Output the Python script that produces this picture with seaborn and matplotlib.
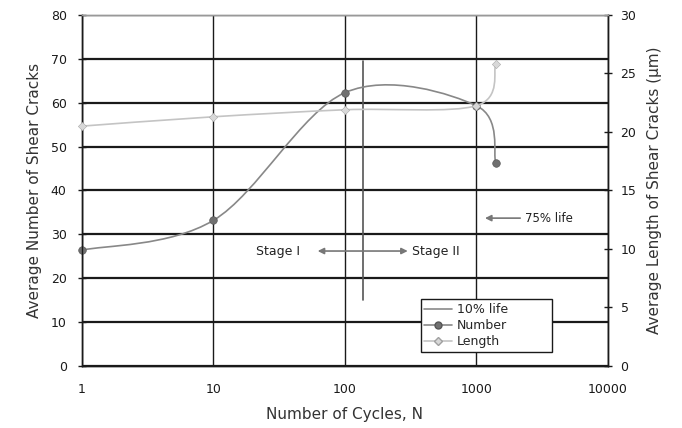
import numpy as np
import matplotlib
matplotlib.use("Agg")
import matplotlib.pyplot as plt
from matplotlib.path import Path
from matplotlib.patches import PathPatch
from matplotlib.lines import Line2D
import seaborn as sns

# data
cycles = [1, 10, 100, 1000, 1400]
crack_number = [26.4, 33.2, 62.3, 59.3, 46.2]           # left axis
crack_length = [20.5, 21.3, 21.9, 22.25, 25.8]           # right axis, um
life10_x = 137
life10_y = [15, 69.5]

sns.set_style("white")
plt.rcParams['font.family'] = ['DejaVu Sans']


def smooth_path(xs, ys):
    # excel-like smoothed line: bezier segments built in (log x, y)
    lx = np.log10(xs)
    ys = np.asarray(ys, float)
    n = len(lx)
    verts = [(xs[0], ys[0])]
    codes = [Path.MOVETO]
    for i in range(n - 1):
        i0, i2, i3 = max(i - 1, 0), i + 1, min(i + 2, n - 1)
        c1 = (lx[i] + (lx[i2] - lx[i0]) / 6, ys[i] + (ys[i2] - ys[i0]) / 6)
        c2 = (lx[i2] - (lx[i3] - lx[i]) / 6, ys[i2] - (ys[i3] - ys[i]) / 6)
        verts += [(10 ** c1[0], c1[1]), (10 ** c2[0], c2[1]), (xs[i2], ys[i2])]
        codes += [Path.CURVE4] * 3
    return Path(verts, codes)


fig = plt.figure(figsize=(6.82, 4.28), dpi=100)
ax = fig.add_axes([0.1202, 0.1449, 0.7713, 0.8201])
ax2 = ax.twinx()

ax.set_xscale('log')
ax.set_xlim(1, 10000)
ax.set_ylim(0, 80)
ax2.set_ylim(0, 30)

ax.set_yticks(range(0, 81, 10))
ax2.set_yticks(range(0, 31, 5))
ax.set_xticks([1, 10, 100, 1000, 10000])
ax.set_xticklabels(['1', '10', '100', '1000', '10000'])
ax.minorticks_off()

ax.grid(axis='y', color='#1a1a1a', lw=1.6)
ax.grid(axis='x', color='#1a1a1a', lw=1.0)
ax.set_axisbelow(True)

for a in (ax, ax2):
    for s in a.spines.values():
        s.set_color('#1a1a1a')
        s.set_linewidth(1.0)
ax.spines['top'].set_color('#999999')
ax2.spines['top'].set_color('#999999')

ax.tick_params(axis='both', direction='inout', length=6, width=1, labelsize=9, colors='#1a1a1a')
ax.tick_params(axis='y', pad=8)
ax.tick_params(axis='x', pad=9)
ax2.tick_params(axis='y', direction='inout', length=6, width=1, labelsize=9, colors='#1a1a1a', pad=6)

# 10% life marker line
ax.plot([life10_x, life10_x], life10_y, color='#555555', lw=1.2, zorder=3)

# smoothed lines
ax.add_patch(PathPatch(smooth_path(cycles, crack_number), fill=False,
                       edgecolor='#888888', lw=1.2, zorder=4))
ax2.add_patch(PathPatch(smooth_path(cycles, crack_length), fill=False,
                        edgecolor='#c4c4c4', lw=1.2, zorder=4))

# markers
sns.scatterplot(x=cycles, y=crack_number, ax=ax, marker='o', s=30,
                color='#707070', edgecolor='#555555', zorder=5, clip_on=False)
sns.scatterplot(x=cycles, y=crack_length, ax=ax2, marker='D', s=18,
                color='#d8d8d8', edgecolor='#a0a0a0', zorder=5, clip_on=False)

ax.set_xlabel('Number of Cycles, N', fontsize=11, color='#333333', labelpad=8)
ax.set_ylabel('Average Number of Shear Cracks', fontsize=11, color='#333333', labelpad=6)
ax2.set_ylabel('Average Length of Shear Cracks (\u00b5m)', fontsize=11, color='#333333', labelpad=8)

# annotations
ax.text(31, 26.2, 'Stage I', ha='center', va='center', fontsize=9, color='#222222')
ax.annotate('', xy=(62, 26.2), xytext=(300, 26.2),
            arrowprops=dict(arrowstyle='<|-|>', color='#777777', lw=1.2,
                            mutation_scale=9, shrinkA=0, shrinkB=0))
ax.text(323, 26.2, 'Stage II', ha='left', va='center', fontsize=9, color='#222222')
ax.annotate('', xy=(1160, 33.7), xytext=(2150, 33.7),
            arrowprops=dict(arrowstyle='-|>', color='#777777', lw=1.2,
                            mutation_scale=9, shrinkA=0, shrinkB=0))
ax.text(2350, 33.7, '75% life', ha='left', va='center', fontsize=8.5, color='#222222')

handles = [
    Line2D([], [], color='#8a8a8a', lw=1.2),
    Line2D([], [], color='#888888', lw=1.2, marker='o', markersize=5,
           markerfacecolor='#707070', markeredgecolor='#555555'),
    Line2D([], [], color='#c4c4c4', lw=1.2, marker='D', markersize=4,
           markerfacecolor='#d8d8d8', markeredgecolor='#a0a0a0'),
]
leg = ax2.legend(handles, ['10% life', 'Number', 'Length'],
                 loc='lower left', bbox_to_anchor=(0.644, 0.04, 0.25, 0.18),
                 mode='expand', fontsize=9, frameon=True, fancybox=False,
                 handlelength=2.2, handletextpad=0.4, borderpad=0.3,
                 labelspacing=0.25, borderaxespad=0)
leg.get_frame().set_edgecolor('#1a1a1a')
leg.get_frame().set_linewidth(1.0)
leg.get_frame().set_alpha(1)
leg.set_zorder(10)

fig.savefig('out.png', dpi=100)
